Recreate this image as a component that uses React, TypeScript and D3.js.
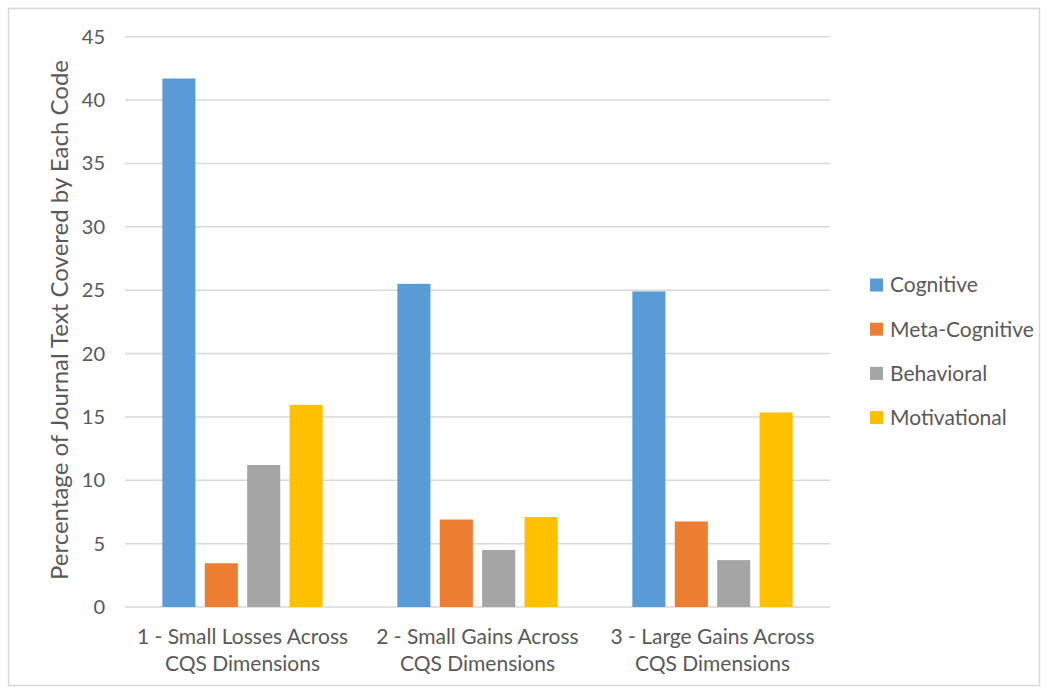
import React from "react";
import * as d3 from "d3";

const categories = ["1 - Small Losses Across|CQS Dimensions", "2 - Small Gains Across|CQS Dimensions", "3 - Large Gains Across|CQS Dimensions"];
const seriesNames = ["Cognitive", "Meta-Cognitive", "Behavioral", "Motivational"];
const cognitive = [41.7, 25.5, 24.9];
const metaCognitive = [3.45, 6.9, 6.75];
const behavioral = [11.2, 4.5, 3.7];
const motivational = [15.95, 7.1, 15.35];
const yTicks = [0, 5, 10, 15, 20, 25, 30, 35, 40, 45];
const colors = ["#5B9BD5", "#ED7D31", "#A5A5A5", "#FFC000"];

const W = 1047, H = 692;
const left = 125, right = 830, top = 36.7, bottom = 607;
const FONT = "Lato, 'Open Sans', sans-serif";
const TXT = "#595959";

export default function App() {
  const values = [cognitive, metaCognitive, behavioral, motivational];
  const x = d3.scaleBand<string>().domain(categories).range([left, right]).paddingInner(0.318).paddingOuter(0.159);
  const xs = d3.scaleBand<string>().domain(seriesNames).range([0, x.bandwidth()]).paddingInner(0.22).paddingOuter(0);
  const y = d3.scaleLinear().domain([0, 45]).range([bottom, top]);

  return (
    <svg width={W} height={H} style={{ position: "absolute", left: 0, top: 0 }}>
      <rect x={0} y={0} width={W} height={H} fill="#fff" />
      <rect x={8.5} y={8.5} width={1031} height={677} fill="#fff" stroke="#D9D9D9" strokeWidth={1.5} />
      {yTicks.map((t) => (
        <g key={t}>
          <line x1={left} x2={right} y1={y(t)} y2={y(t)} stroke="#D9D9D9" strokeWidth={1.5} />
          <text x={105} y={y(t)} dy="0.35em" textAnchor="end" fontFamily={FONT} fontSize={20} fill={TXT}>{t}</text>
        </g>
      ))}
      {categories.map((c, ci) => (
        <g key={c} transform={`translate(${x(c)},0)`}>
          {seriesNames.map((s, si) => (
            <rect key={s} x={xs(s)} width={xs.bandwidth()} y={y(values[si][ci])} height={y(0) - y(values[si][ci])} fill={colors[si]} />
          ))}
          {c.split("|").map((line, li) => (
            <text key={li} x={x.bandwidth() / 2} y={644 + li * 27} textAnchor="middle" fontFamily={FONT} fontSize={21} fill={TXT}>{line}</text>
          ))}
        </g>
      ))}
      <text transform={`translate(68,320) rotate(-90)`} textAnchor="middle" fontFamily={FONT} fontSize={24} fill={TXT}>
        Percentage of Journal Text Covered by Each Code
      </text>
      {seriesNames.map((s, i) => (
        <g key={s} transform={`translate(870,${285 + i * 44.2})`}>
          <rect x={0} y={-6.5} width={13} height={13} fill={colors[i]} />
          <text x={20} y={0} dy="0.35em" fontFamily={FONT} fontSize={21} fill={TXT}>{s}</text>
        </g>
      ))}
    </svg>
  );
}
